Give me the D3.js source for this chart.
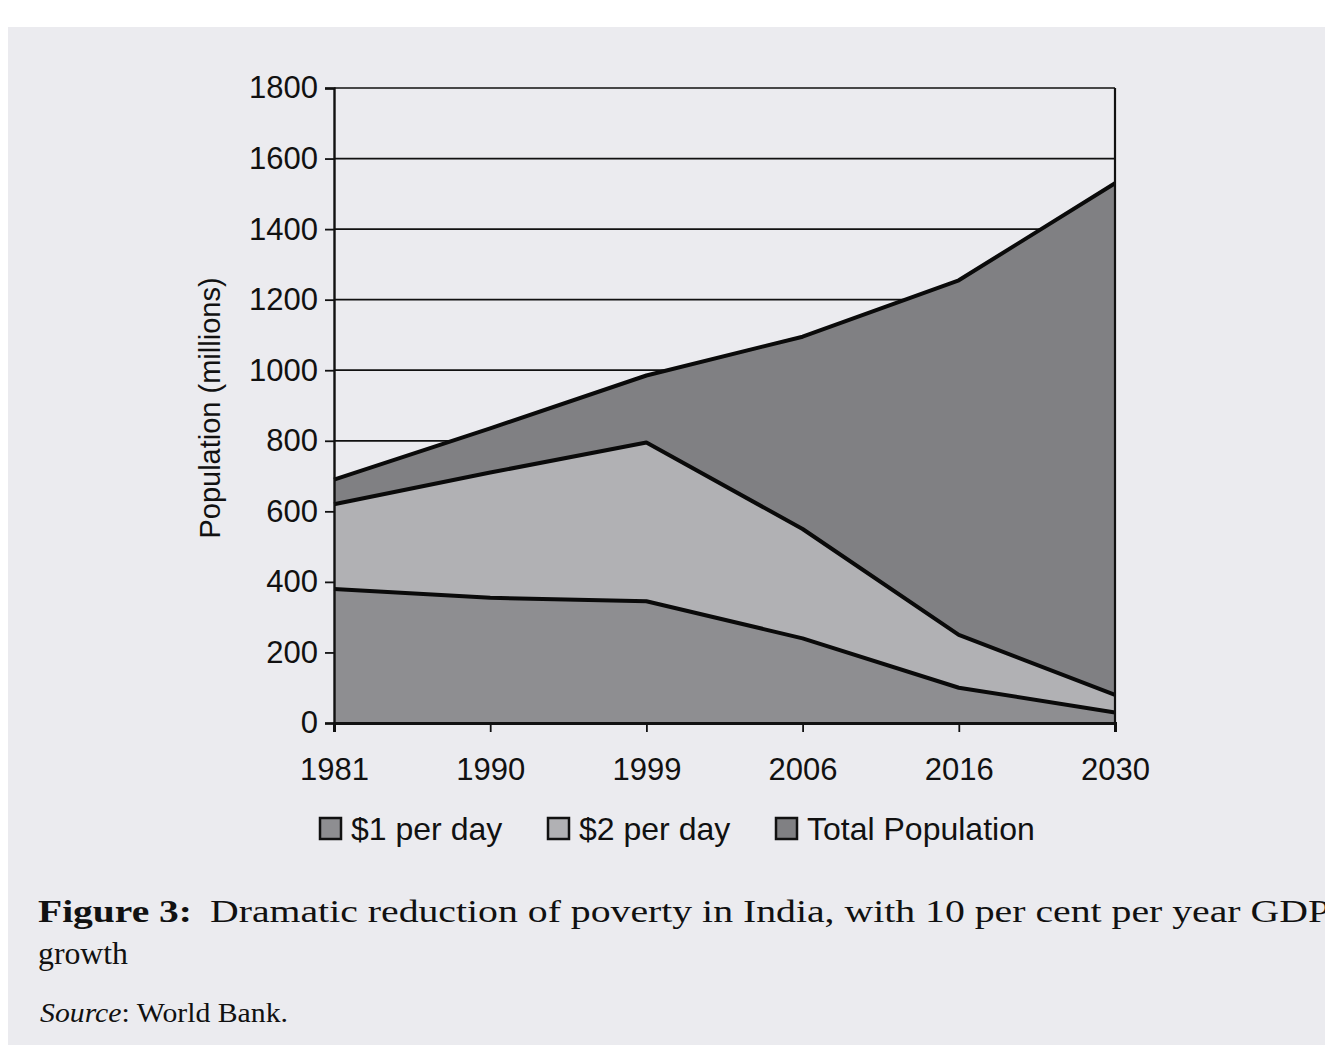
<!DOCTYPE html>
<html>
<head>
<meta charset="utf-8">
<script src="https://cdn.jsdelivr.net/npm/d3@7"></script>
<style>
  body { margin: 0; background: #fff; }
  svg { display: block; }
  .tick-label { font-family: "Liberation Sans", Arial, sans-serif; font-size: 31px; fill: #111; }
  .caption { font-family: "Liberation Serif", "Times New Roman", Times, serif; font-size: 31px; fill: #111; }
</style>
</head>
<body>
<div id="chart-area"></div>
<script>

// data (millions)
var years = ["1981", "1990", "1999", "2006", "2016", "2030"];
var totalPop = [690, 835, 985, 1095, 1255, 1530];
var twoDollar = [620, 710, 795, 550, 250, 80];
var oneDollar = [380, 355, 345, 240, 100, 30];
var yTicks = [0, 200, 400, 600, 800, 1000, 1200, 1400, 1600, 1800];
var seriesNames = ["$1 per day", "$2 per day", "Total Population"];

var W = 1325, H = 1045;

var svg = d3.select("#chart-area").append("svg")
    .attr("width", W)
    .attr("height", H);

// page of the scanned book
svg.append("rect").attr("width", W).attr("height", H).attr("fill", "#ffffff");
svg.append("rect")
    .attr("x", 8).attr("y", 27)
    .attr("width", W - 8).attr("height", H - 27)
    .attr("fill", "#ebebef");

var x = d3.scalePoint()
    .domain(years)
    .range([334, 1115]);

var y = d3.scaleLinear()
    .domain([0, 1800])
    .range([723, 88]);

var fills = ["#8e8e91", "#b1b1b4", "#808083"];

// gridlines behind the areas
svg.append("g")
    .selectAll("line")
    .data(yTicks.filter(function(d) { return d > 0; }))
    .enter()
    .append("line")
    .attr("x1", x.range()[0])
    .attr("x2", x.range()[1])
    .attr("y1", function(d) { return y(d); })
    .attr("y2", function(d) { return y(d); })
    .attr("stroke", "#111")
    .attr("stroke-width", 1.7);

var layers = [oneDollar, twoDollar, totalPop].map(function(vals, i) {
    return { name: seriesNames[i], fill: fills[i], values: vals.map(function(v, j) { return { year: years[j], v: v }; }) };
});

var area = d3.area()
    .x(function(d) { return x(d.year); })
    .y0(y(0))
    .y1(function(d) { return y(d.v); });

var line = d3.line()
    .x(function(d) { return x(d.year); })
    .y(function(d) { return y(d.v); });

// draw total first, then $2, then $1 on top
var drawOrder = [layers[2], layers[1], layers[0]];

svg.append("g")
    .selectAll("path")
    .data(drawOrder)
    .enter()
    .append("path")
    .attr("d", function(d) { return area(d.values); })
    .attr("fill", function(d) { return d.fill; });

svg.append("g")
    .selectAll("path")
    .data(drawOrder)
    .enter()
    .append("path")
    .attr("d", function(d) { return line(d.values); })
    .attr("fill", "none")
    .attr("stroke", "#0a0a0a")
    .attr("stroke-width", 4)
    .attr("stroke-linejoin", "round");

// right frame
svg.append("line")
    .attr("x1", x.range()[1]).attr("x2", x.range()[1])
    .attr("y1", y(1800)).attr("y2", y(0))
    .attr("stroke", "#111").attr("stroke-width", 2.2);

// y axis
var yAxis = d3.axisLeft(y)
    .tickValues(yTicks)
    .tickSize(9)
    .tickPadding(7)
    .tickFormat(d3.format("d"));

var gy = svg.append("g")
    .attr("transform", "translate(" + x.range()[0] + ",0)")
    .call(yAxis);
gy.select(".domain").attr("stroke", "#111").attr("stroke-width", 2.4);
gy.selectAll(".tick line").attr("stroke", "#111").attr("stroke-width", 1.8);
gy.selectAll(".tick text").attr("fill", "#111").style("font-size", "31px").style("font-family", "'Liberation Sans', Arial, sans-serif");

// x axis
var xAxis = d3.axisBottom(x)
    .tickSize(9)
    .tickPadding(26);

var gx = svg.append("g")
    .attr("transform", "translate(0," + y(0) + ")")
    .call(xAxis);
gx.select(".domain").attr("stroke", "#111").attr("stroke-width", 3);
gx.selectAll(".tick line").attr("stroke", "#111").attr("stroke-width", 1.8);
gx.selectAll(".tick text").attr("fill", "#111").style("font-size", "31px").style("font-family", "'Liberation Sans', Arial, sans-serif");

// y label
svg.append("text")
    .attr("class", "tick-label")
    .attr("transform", "translate(220,408) rotate(-90)")
    .attr("text-anchor", "middle")
    .style("font-size", "29px")
    .text("Population (millions)");

// legend
var legendX = [320, 548, 776];
var legend = svg.append("g")
    .selectAll("g")
    .data(layers)
    .enter()
    .append("g")
    .attr("transform", function(d, i) { return "translate(" + legendX[i] + ",818)"; });

legend.append("rect")
    .attr("width", 21).attr("height", 21)
    .attr("fill", function(d) { return d.fill; })
    .attr("stroke", "#111")
    .attr("stroke-width", 2.5);

legend.append("text")
    .attr("class", "tick-label")
    .attr("x", 31)
    .attr("y", 22)
    .style("font-size", "32px")
    .text(function(d) { return d.name; });

// caption
svg.append("text")
    .attr("class", "caption")
    .attr("x", 38).attr("y", 922)
    .attr("font-weight", "bold")
    .attr("textLength", 154).attr("lengthAdjust", "spacingAndGlyphs")
    .text("Figure 3:");

svg.append("text")
    .attr("class", "caption")
    .attr("x", 210).attr("y", 922)
    .attr("textLength", 1120).attr("lengthAdjust", "spacingAndGlyphs")
    .text("Dramatic reduction of poverty in India, with 10 per cent per year GDP");

svg.append("text")
    .attr("class", "caption")
    .attr("x", 38).attr("y", 964)
    .attr("textLength", 90).attr("lengthAdjust", "spacingAndGlyphs")
    .text("growth");

var src = svg.append("text")
    .attr("class", "caption")
    .attr("x", 40).attr("y", 1022)
    .style("font-size", "28px")
    .attr("textLength", 248).attr("lengthAdjust", "spacingAndGlyphs");
src.append("tspan").attr("font-style", "italic").text("Source");
src.append("tspan").text(": World Bank.");

</script>
</body>
</html>
